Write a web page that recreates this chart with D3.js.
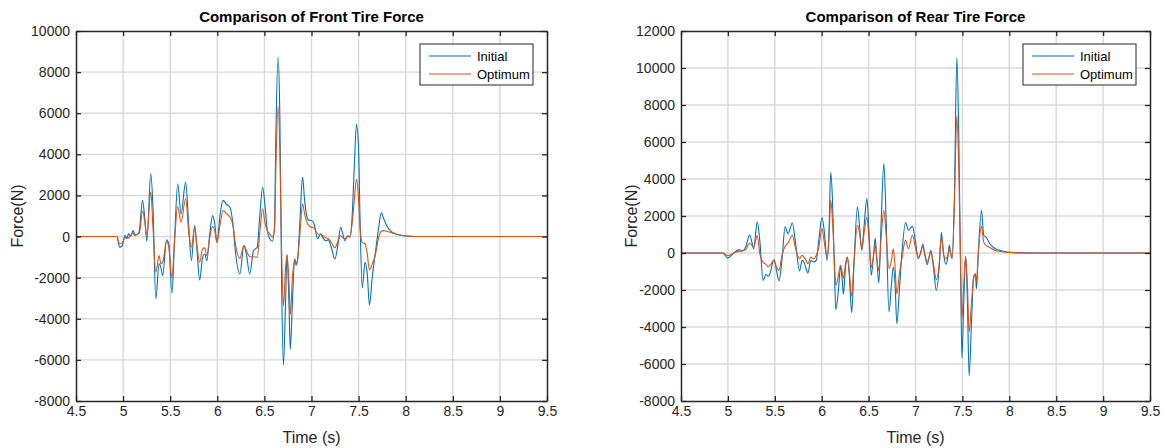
<!DOCTYPE html>
<html>
<head>
<meta charset="utf-8">
<script src="https://cdn.jsdelivr.net/npm/d3@7"></script>
<style>
    body { margin: 0; background: #fff; }
    svg { display: block; font-family: "Liberation Sans", Arial, Helvetica, sans-serif; }
    .tick text { fill: #262626; font-size: 14px; }
</style>
</head>
<body>
<div id="chart"></div>
<script>
// ---- data ----
const X_TICKS = [4.5, 5, 5.5, 6, 6.5, 7, 7.5, 8, 8.5, 9, 9.5];
const SERIES_NAMES = ["Initial", "Optimum"];

const frontTicks = [-8000, -6000, -4000, -2000, 0, 2000, 4000, 6000, 8000, 10000];
const frontTime = [
    4.5, 4.935, 4.962, 4.992, 5.019, 5.042, 5.057, 5.080, 5.107, 5.126,
    5.156, 5.172, 5.206, 5.229, 5.252, 5.294, 5.317, 5.347, 5.382, 5.401,
    5.420, 5.462, 5.485, 5.519, 5.546, 5.580, 5.615, 5.664, 5.698, 5.725,
    5.760, 5.782, 5.813, 5.844, 5.866, 5.889, 5.920, 5.950, 5.973, 5.996,
    6.031, 6.061, 6.099, 6.130, 6.164, 6.195, 6.240, 6.282, 6.309, 6.344,
    6.385, 6.424, 6.450, 6.481, 6.508, 6.531, 6.557, 6.584, 6.607, 6.622,
    6.645, 6.664, 6.683, 6.702, 6.725, 6.740, 6.760, 6.775, 6.798, 6.821,
    6.836, 6.851, 6.874, 6.905, 6.927, 6.958, 6.981, 7.004, 7.027, 7.065,
    7.095, 7.118, 7.149, 7.179, 7.210, 7.248, 7.282, 7.309, 7.332, 7.355,
    7.385, 7.408, 7.431, 7.454, 7.477, 7.500, 7.515, 7.538, 7.569, 7.592,
    7.615, 7.645, 7.676, 7.714, 7.740, 7.767, 7.798, 7.836, 7.912, 8.008,
    8.179, 9.5
];
const frontInitial = [
    0, 0, -520, -440, 50, -65, 130, 30, 290, 100,
    130, 290, 1760, 940, -230, 3060, 1430, -3040, -1330, -1500,
    -1900, -160, -360, -2760, -200, 2570, 1100, 2650, 450, -1170,
    540, -520, -2110, -1010, -850, -1170, 130, 1020, 620, -280,
    1100, 1760, 1560, 1460, 700, -850, -1820, -440, -850, -1820,
    -680, -520, 940, 2400, 1430, 290, -110, -230, 450, 5010,
    8750, 5820, -2310, -6260, -3120, -850, -3120, -5480, -3120, -1090,
    -1330, -1170, 450, 2890, 1760, 860, 780, 780, 620, -110,
    130, -30, -200, -160, -520, -1090, -360, 450, 130, -200,
    50, -30, 940, 3380, 5460, 4200, 940, -2500, -1250, -1820,
    -3320, -1980, -850, 450, 1150, 860, 540, 290, 100, 30,
    0, 0
];
const frontOptimum = [
    0, 0, -360, -310, -30, -110, -65, 50, 160, 50,
    130, 160, 1240, 780, 50, 2160, 450, -1740, -930, -1330,
    -1250, -230, -520, -2020, -200, 1460, 700, 1840, 130, -520,
    450, -360, -1250, -600, -550, -930, -30, 490, 290, -280,
    620, 1270, 1100, 980, 620, -440, -1060, -440, -680, -980,
    -980, -1010, 130, 1350, 620, 290, 130, -30, 290, 3380,
    6340, 4200, -680, -3370, -1500, -930, -2150, -3800, -1980, -1090,
    -1410, -1170, -30, 1590, 1100, 620, 490, 450, 420, 130,
    100, 50, -65, -110, -280, -550, -200, 50, -65, -110,
    0, 0, 620, 1760, 2780, 1760, 450, -280, -360, -850,
    -1630, -1330, -930, -30, 260, 290, 260, 210, 100, 30,
    0, 0
];

const rearTicks = [-8000, -6000, -4000, -2000, 0, 2000, 4000, 6000, 8000, 10000, 12000];
const rearTime = [
    4.5, 4.947, 4.997, 5.036, 5.074, 5.113, 5.152, 5.190, 5.232, 5.256,
    5.275, 5.313, 5.340, 5.375, 5.406, 5.429, 5.448, 5.491, 5.518, 5.545,
    5.576, 5.610, 5.641, 5.687, 5.718, 5.764, 5.791, 5.811, 5.834, 5.853,
    5.884, 5.911, 5.942, 5.969, 6.003, 6.030, 6.057, 6.077, 6.096, 6.115,
    6.135, 6.150, 6.181, 6.200, 6.219, 6.231, 6.254, 6.273, 6.293, 6.320,
    6.343, 6.381, 6.404, 6.428, 6.451, 6.482, 6.505, 6.528, 6.551, 6.570,
    6.589, 6.609, 6.632, 6.663, 6.686, 6.717, 6.744, 6.763, 6.782, 6.801,
    6.828, 6.852, 6.894, 6.925, 6.967, 6.998, 7.029, 7.052, 7.079, 7.098,
    7.125, 7.145, 7.164, 7.191, 7.222, 7.253, 7.276, 7.299, 7.322, 7.345,
    7.360, 7.376, 7.391, 7.414, 7.441, 7.461, 7.480, 7.495, 7.515, 7.534,
    7.553, 7.572, 7.599, 7.619, 7.638, 7.650, 7.669, 7.704, 7.727, 7.754,
    7.792, 7.850, 7.927, 8.024, 8.255, 9.5
];
const rearInitial = [
    0, 0, -270, -130, 50, 180, 110, 320, 990, 590,
    230, 1680, 680, -1480, -1150, -1260, -1120, -360, -940, -1510,
    -400, 1410, 1050, 1620, 680, -970, -400, -490, -850, -1080,
    -400, -490, -400, 680, 1910, 1050, -400, 1050, 4360, 2850,
    -760, -3060, -1840, -760, -1480, -2230, -760, -220, -1120, -3230,
    -760, 2490, 1410, 140, 1410, 2940, 1050, -1210, -220, 810,
    -400, -1620, 1410, 4830, 1950, -3190, -1660, -760, -1660, -3820,
    -2020, -220, 1640, 1230, 1440, 680, -310, -40, 470, -40,
    -630, -220, 140, -760, -2020, -760, 1100, -40, -610, -220,
    410, -40, -310, 2850, 10560, 6450, -760, -5680, -2560, -180,
    -2560, -6650, -3460, -1300, -1120, -1930, -40, 2310, 960, 860,
    500, 230, 110, 36, 0, 0
];
const rearOptimum = [
    0, 0, -140, -70, 36, 90, 110, 180, 540, 410,
    320, 940, -40, -490, -610, -760, -670, -400, -760, -940,
    -130, 360, 540, 960, 320, -310, -130, -220, -400, -580,
    -220, -310, -130, 320, 1320, 500, -220, 680, 2850, 1770,
    -400, -1750, -1120, -670, -1030, -1390, -580, -220, -940, -2340,
    -580, 1500, 1050, 230, 1050, 1950, 680, -760, -220, 450,
    -400, -940, 680, 2310, 1050, -850, -400, 230, -760, -2230,
    -1120, -400, 680, 230, 960, 320, -220, -40, 360, -40,
    -490, -220, 50, -580, -1440, -580, 860, -40, -310, -130,
    230, -40, -220, 2490, 7410, 4650, -400, -3550, -1660, -180,
    -1660, -4270, -2560, -1390, -1120, -1570, -40, 1440, 590, 410,
    290, 140, 70, 18, 0, 0
];

const STROKE = ["#0072BD", "#D95319"];
const WIDTH = 1167;
const HEIGHT = 448;

const svg = d3.select("#chart").append("svg")
    .attr("width", WIDTH)
    .attr("height", HEIGHT)
    .attr("viewBox", [0, 0, WIDTH, HEIGHT]);

function drawPanel(opts) {
    const left = opts.left, right = opts.right, top = 31, bottom = 401;

    const xScale = d3.scaleLinear().domain([4.5, 9.5]).range([left, right]);
    const yScale = d3.scaleLinear().domain(opts.yDomain).range([bottom, top]);

    const g = svg.append("g");

    // grid lines
    g.append("g").selectAll("line").data(X_TICKS.slice(1, -1)).join("line")
        .attr("x1", d => xScale(d)).attr("x2", d => xScale(d))
        .attr("y1", top).attr("y2", bottom)
        .style("stroke", "#d9d9d9").style("stroke-width", 1.4);
    g.append("g").selectAll("line").data(opts.yTicks.slice(1, -1)).join("line")
        .attr("x1", left).attr("x2", right)
        .attr("y1", d => yScale(d)).attr("y2", d => yScale(d))
        .style("stroke", "#d9d9d9").style("stroke-width", 1.4);

    // the two curves
    const line = d3.line()
        .x(d => xScale(d[0]))
        .y(d => yScale(d[1]))
        .curve(d3.curveMonotoneX);
    [opts.initial, opts.optimum].forEach(function(vals, i) {
        g.append("path")
            .datum(opts.time.map((t, k) => [t, vals[k]]))
            .attr("d", line)
            .style("fill", "none")
            .style("stroke", STROKE[i])
            .style("stroke-width", 1.1);
    });

    // axes, ticks inside on all four sides
    const fmt = d => String(d);
    const axes = [
        [d3.axisBottom(xScale).tickValues(X_TICKS).tickFormat(fmt).tickSizeInner(-5).tickPadding(5), `translate(0,${bottom})`],
        [d3.axisTop(xScale).tickValues(X_TICKS).tickFormat("").tickSizeInner(-5), `translate(0,${top})`],
        [d3.axisLeft(yScale).tickValues(opts.yTicks).tickFormat(fmt).tickSizeInner(-5).tickPadding(6), `translate(${left},0)`],
        [d3.axisRight(yScale).tickValues(opts.yTicks).tickFormat("").tickSizeInner(-5), `translate(${right},0)`]
    ];
    axes.forEach(function(a) {
        const ax = g.append("g").attr("transform", a[1]).call(a[0].tickSizeOuter(0));
        ax.select(".domain").style("stroke", "#262626").style("stroke-width", 1.5);
        ax.selectAll(".tick line").style("stroke", "#262626").style("stroke-width", 1.3);
    });

    // title and labels
    g.append("text")
        .text(opts.title)
        .attr("x", (left + right) / 2).attr("y", 22)
        .attr("text-anchor", "middle")
        .style("font-size", "15px").style("font-weight", "bold").style("fill", "#000");
    g.append("text")
        .text("Time (s)")
        .attr("x", (left + right) / 2).attr("y", 443)
        .attr("text-anchor", "middle")
        .style("font-size", "16px").style("fill", "#262626");
    g.append("text")
        .text("Force(N)")
        .attr("transform", "rotate(-90)")
        .attr("x", -(top + bottom) / 2).attr("y", opts.ylabelX + 6)
        .attr("text-anchor", "middle")
        .style("font-size", "16px").style("fill", "#262626");

    // legend
    const lx = opts.legendX, ly = 44;
    g.append("rect")
        .attr("x", lx).attr("y", ly).attr("width", 113).attr("height", 41)
        .style("fill", "#fff").style("stroke", "#262626").style("stroke-width", 1);
    SERIES_NAMES.forEach(function(name, i) {
        const yy = ly + 12 + i * 18;
        g.append("line")
            .attr("x1", lx + 9).attr("x2", lx + 51)
            .attr("y1", yy).attr("y2", yy)
            .style("stroke", STROKE[i]).style("stroke-width", 1.1);
        g.append("text")
            .text(name)
            .attr("x", lx + 57).attr("y", yy + 4.5)
            .style("font-size", "13px").style("fill", "#000");
    });
}

drawPanel({
    left: 76, right: 547,
    yDomain: [-8000, 10000], yTicks: frontTicks,
    time: frontTime, initial: frontInitial, optimum: frontOptimum,
    title: "Comparison of Front Tire Force",
    legendX: 420, ylabelX: 17
});

drawPanel({
    left: 681, right: 1150,
    yDomain: [-8000, 12000], yTicks: rearTicks,
    time: rearTime, initial: rearInitial, optimum: rearOptimum,
    title: "Comparison of Rear Tire Force",
    legendX: 1023, ylabelX: 631
});
</script>
</body>
</html>
